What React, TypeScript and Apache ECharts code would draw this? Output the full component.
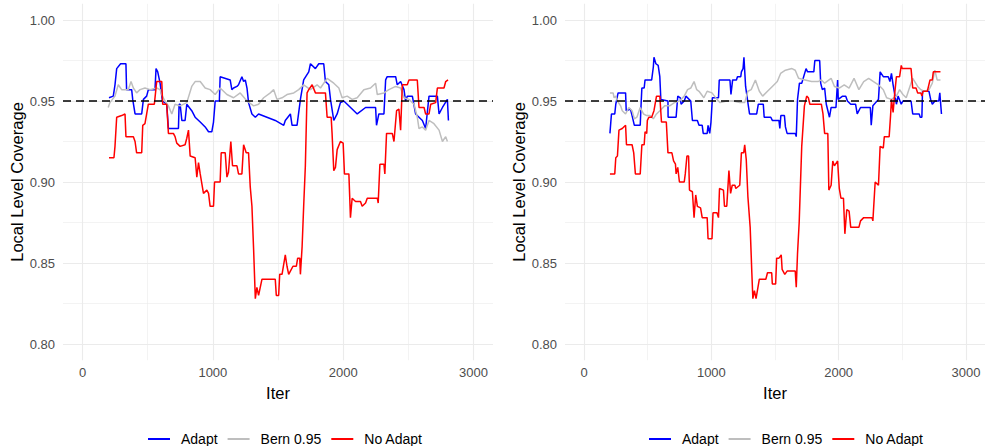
import React, { useEffect, useRef } from "react";
import * as echarts from "echarts";

// ---- data (iteration, local level coverage) ----
const leftAdapt: [number, number][] = [
  [203,0.952],[236,0.953],[249,0.960],[262,0.970],[292,0.973],[333,0.973],[338,0.957],[377,0.957],[385,0.951],[403,0.942],[454,0.942],[467,0.951],[492,0.953],[505,0.957],[556,0.957],[564,0.970],[577,0.968],[595,0.961],[613,0.950],[646,0.948],[659,0.933],[736,0.933],[741,0.948],[749,0.948],[762,0.938],[787,0.938],[800,0.948],[838,0.944],[864,0.940],[903,0.937],[941,0.934],[967,0.931],[992,0.931],[1005,0.937],[1018,0.950],[1050,0.950],[1056,0.965],[1133,0.963],[1146,0.957],[1159,0.958],[1185,0.959],[1197,0.960],[1223,0.965],[1236,0.962],[1249,0.963],[1262,0.958],[1274,0.949],[1300,0.942],[1326,0.940],[1351,0.942],[1415,0.940],[1479,0.938],[1544,0.935],[1556,0.938],[1595,0.942],[1608,0.935],[1646,0.935],[1672,0.951],[1697,0.963],[1736,0.968],[1749,0.973],[1787,0.970],[1813,0.973],[1851,0.973],[1864,0.962],[1890,0.960],[1903,0.951],[1928,0.938],[1954,0.942],[1979,0.949],[2005,0.950],[2031,0.948],[2108,0.942],[2172,0.946],[2249,0.946],[2256,0.935],[2274,0.942],[2313,0.942],[2326,0.963],[2338,0.965],[2403,0.965],[2415,0.960],[2441,0.962],[2467,0.957],[2479,0.950],[2492,0.953],[2531,0.953],[2556,0.942],[2608,0.938],[2633,0.933],[2659,0.953],[2723,0.953],[2736,0.942],[2762,0.946],[2800,0.951],[2808,0.938]
];
const leftBern: [number, number][] = [
  [197,0.946],[210,0.949],[249,0.953],[274,0.960],[300,0.957],[351,0.957],[372,0.962],[390,0.958],[415,0.955],[441,0.957],[479,0.958],[518,0.957],[569,0.958],[595,0.957],[613,0.953],[633,0.950],[659,0.947],[685,0.942],[710,0.948],[749,0.947],[800,0.949],[838,0.959],[864,0.962],[903,0.962],[941,0.958],[979,0.957],[1018,0.954],[1056,0.958],[1108,0.954],[1159,0.952],[1210,0.955],[1262,0.950],[1313,0.947],[1351,0.948],[1390,0.952],[1441,0.955],[1467,0.957],[1492,0.951],[1531,0.952],[1569,0.954],[1621,0.955],[1659,0.957],[1697,0.960],[1749,0.957],[1800,0.960],[1826,0.958],[1877,0.964],[1928,0.961],[1967,0.958],[1992,0.952],[2031,0.953],[2069,0.951],[2108,0.952],[2159,0.957],[2210,0.958],[2249,0.961],[2262,0.954],[2313,0.955],[2351,0.957],[2403,0.959],[2441,0.958],[2467,0.952],[2505,0.951],[2544,0.948],[2569,0.940],[2582,0.933],[2608,0.934],[2633,0.932],[2659,0.938],[2697,0.936],[2736,0.932],[2762,0.925],[2787,0.928],[2800,0.925]
];
const leftNoAdapt: [number, number][] = [
  [203,0.915],[241,0.915],[249,0.922],[262,0.940],[300,0.941],[326,0.942],[333,0.928],[390,0.928],[403,0.925],[415,0.918],[454,0.918],[462,0.935],[479,0.936],[492,0.942],[505,0.948],[551,0.948],[569,0.962],[608,0.962],[615,0.948],[646,0.948],[659,0.930],[697,0.930],[710,0.928],[723,0.924],[749,0.922],[787,0.923],[800,0.927],[813,0.932],[826,0.916],[864,0.915],[877,0.903],[890,0.912],[903,0.905],[928,0.893],[954,0.895],[967,0.893],[979,0.885],[1005,0.885],[1013,0.900],[1056,0.900],[1064,0.918],[1095,0.918],[1108,0.903],[1120,0.906],[1138,0.925],[1151,0.910],[1185,0.910],[1197,0.905],[1223,0.905],[1236,0.923],[1256,0.918],[1274,0.918],[1287,0.897],[1300,0.885],[1313,0.858],[1326,0.828],[1338,0.835],[1351,0.830],[1377,0.840],[1479,0.840],[1487,0.830],[1505,0.830],[1513,0.843],[1531,0.843],[1556,0.855],[1569,0.848],[1582,0.843],[1595,0.845],[1615,0.848],[1641,0.848],[1651,0.853],[1667,0.853],[1672,0.843],[1685,0.860],[1697,0.885],[1710,0.910],[1723,0.955],[1736,0.957],[1762,0.960],[1787,0.955],[1864,0.955],[1877,0.940],[1908,0.940],[1915,0.930],[1928,0.907],[1941,0.909],[1954,0.920],[1979,0.925],[2000,0.924],[2010,0.905],[2044,0.905],[2056,0.878],[2069,0.890],[2095,0.888],[2133,0.888],[2146,0.885],[2172,0.887],[2185,0.890],[2262,0.890],[2269,0.887],[2282,0.911],[2313,0.911],[2320,0.905],[2333,0.930],[2377,0.930],[2390,0.925],[2410,0.944],[2428,0.945],[2441,0.932],[2454,0.960],[2492,0.960],[2505,0.963],[2569,0.963],[2582,0.946],[2621,0.946],[2633,0.942],[2659,0.942],[2672,0.948],[2710,0.949],[2723,0.958],[2774,0.958],[2787,0.962],[2805,0.963]
];
const rightAdapt: [number, number][] = [
  [203,0.930],[215,0.942],[241,0.942],[249,0.948],[267,0.955],[326,0.955],[331,0.944],[364,0.945],[377,0.941],[395,0.935],[441,0.935],[449,0.950],[454,0.958],[472,0.958],[479,0.963],[531,0.963],[544,0.971],[549,0.977],[564,0.973],[582,0.972],[595,0.965],[603,0.951],[659,0.950],[660,0.940],[723,0.940],[736,0.953],[756,0.952],[762,0.948],[787,0.950],[800,0.953],[838,0.950],[851,0.938],[890,0.938],[903,0.935],[928,0.935],[936,0.930],[967,0.930],[974,0.935],[987,0.930],[997,0.937],[1008,0.952],[1056,0.952],[1062,0.963],[1146,0.963],[1154,0.954],[1167,0.963],[1197,0.963],[1205,0.965],[1231,0.965],[1236,0.968],[1249,0.970],[1256,0.977],[1269,0.959],[1287,0.949],[1300,0.942],[1356,0.942],[1369,0.948],[1408,0.948],[1415,0.940],[1467,0.940],[1479,0.938],[1531,0.938],[1538,0.933],[1546,0.941],[1574,0.941],[1582,0.934],[1595,0.930],[1659,0.930],[1667,0.928],[1677,0.951],[1692,0.961],[1710,0.961],[1744,0.970],[1756,0.968],[1805,0.968],[1813,0.975],[1851,0.975],[1859,0.961],[1872,0.957],[1890,0.958],[1903,0.948],[1928,0.940],[1941,0.946],[1979,0.946],[1992,0.963],[1997,0.951],[2031,0.953],[2056,0.953],[2069,0.950],[2095,0.948],[2133,0.948],[2146,0.942],[2172,0.946],[2249,0.946],[2256,0.935],[2269,0.947],[2313,0.951],[2326,0.968],[2351,0.965],[2390,0.965],[2403,0.962],[2415,0.967],[2428,0.960],[2454,0.948],[2467,0.953],[2492,0.948],[2505,0.950],[2569,0.950],[2582,0.942],[2633,0.942],[2641,0.940],[2654,0.940],[2659,0.956],[2710,0.956],[2723,0.951],[2736,0.948],[2756,0.950],[2787,0.950],[2795,0.955],[2808,0.942]
];
const rightBern: [number, number][] = [
  [203,0.955],[228,0.955],[236,0.952],[249,0.953],[262,0.950],[287,0.947],[300,0.944],[326,0.942],[351,0.946],[377,0.944],[395,0.939],[415,0.940],[441,0.946],[467,0.942],[492,0.941],[518,0.941],[544,0.939],[569,0.942],[595,0.944],[633,0.947],[672,0.947],[710,0.949],[749,0.950],[787,0.953],[813,0.957],[838,0.958],[864,0.962],[885,0.957],[903,0.956],[941,0.952],[967,0.956],[1005,0.955],[1044,0.951],[1069,0.949],[1121,0.950],[1172,0.950],[1223,0.949],[1262,0.949],[1287,0.956],[1313,0.957],[1346,0.963],[1377,0.956],[1403,0.953],[1441,0.956],[1479,0.959],[1518,0.962],[1544,0.967],[1582,0.969],[1633,0.970],[1659,0.969],[1685,0.964],[1736,0.963],[1787,0.962],[1838,0.962],[1864,0.963],[1890,0.961],[1941,0.964],[1967,0.959],[2005,0.958],[2044,0.960],[2082,0.958],[2121,0.964],[2159,0.957],[2197,0.962],[2236,0.964],[2274,0.962],[2313,0.960],[2351,0.957],[2377,0.952],[2415,0.951],[2454,0.953],[2479,0.957],[2505,0.954],[2531,0.952],[2556,0.958],[2582,0.964],[2621,0.959],[2646,0.957],[2672,0.956],[2710,0.957],[2736,0.961],[2756,0.969],[2774,0.963],[2800,0.963]
];
const rightNoAdapt: [number, number][] = [
  [203,0.905],[241,0.905],[249,0.915],[262,0.916],[274,0.932],[300,0.933],[326,0.935],[333,0.923],[377,0.923],[390,0.918],[403,0.905],[441,0.905],[454,0.923],[472,0.923],[479,0.931],[492,0.930],[497,0.938],[510,0.940],[531,0.940],[549,0.944],[569,0.953],[595,0.953],[608,0.937],[646,0.937],[659,0.918],[690,0.918],[703,0.913],[718,0.911],[723,0.905],[736,0.909],[749,0.900],[787,0.900],[795,0.905],[808,0.916],[821,0.916],[828,0.895],[851,0.894],[864,0.878],[877,0.892],[890,0.885],[915,0.884],[928,0.878],[967,0.878],[974,0.865],[1005,0.865],[1013,0.881],[1044,0.881],[1056,0.878],[1064,0.896],[1095,0.895],[1103,0.885],[1121,0.885],[1138,0.907],[1151,0.893],[1164,0.898],[1185,0.898],[1192,0.896],[1223,0.898],[1236,0.918],[1254,0.918],[1262,0.923],[1274,0.914],[1287,0.891],[1305,0.872],[1318,0.844],[1326,0.828],[1338,0.833],[1351,0.828],[1377,0.840],[1428,0.840],[1441,0.844],[1474,0.844],[1479,0.837],[1505,0.837],[1513,0.853],[1531,0.853],[1549,0.855],[1556,0.846],[1577,0.843],[1595,0.845],[1659,0.845],[1667,0.835],[1677,0.856],[1690,0.875],[1710,0.922],[1731,0.947],[1749,0.953],[1762,0.952],[1774,0.948],[1864,0.948],[1877,0.942],[1890,0.930],[1915,0.930],[1923,0.895],[1941,0.898],[1954,0.913],[1967,0.910],[1992,0.913],[2005,0.896],[2018,0.890],[2038,0.890],[2049,0.868],[2064,0.883],[2082,0.882],[2095,0.872],[2159,0.872],[2172,0.876],[2197,0.878],[2262,0.878],[2269,0.876],[2287,0.900],[2313,0.898],[2326,0.922],[2351,0.921],[2359,0.928],[2397,0.928],[2408,0.941],[2415,0.951],[2428,0.943],[2441,0.955],[2454,0.965],[2479,0.965],[2492,0.972],[2500,0.970],[2569,0.970],[2582,0.958],[2608,0.958],[2621,0.955],[2646,0.955],[2654,0.953],[2664,0.956],[2697,0.956],[2718,0.963],[2736,0.963],[2744,0.968],[2800,0.968]
];

const seriesNames = ["Adapt", "Bern 0.95", "No Adapt"];
const seriesColors = ["#0000FF", "#BEBEBE", "#FF0000"];
const xMajorTicks = [0, 1000, 2000, 3000];
const xMinorTicks = [500, 1500, 2500];
const yMajorTicks = [0.8, 0.85, 0.9, 0.95, 1.0];
const yMinorTicks = [0.825, 0.875, 0.925, 0.975];
const targetLevel = 0.95;

const FONT = "Liberation Sans, Arial, Helvetica, sans-serif";

export default function App() {
  const ref = useRef<HTMLDivElement>(null);
  useEffect(() => {
    if (!ref.current) return;
    const chart = echarts.init(ref.current, undefined, { renderer: "svg" });
    const gridLefts = [63, 565];
    const grids = gridLefts.map((l) => ({ left: l, top: 3.8, width: 430, height: 356.4, containLabel: false }));
    const xAxes: any[] = [];
    const yAxes: any[] = [];
    gridLefts.forEach((_, g) => {
      xAxes.push({
        type: "value", gridIndex: g, min: -150, max: 3150,
        name: "Iter", nameLocation: "middle", nameGap: 22,
        nameTextStyle: { color: "#000", fontSize: 16.5, fontFamily: FONT },
        axisLine: { show: false }, axisTick: { show: false, customValues: xMajorTicks },
        axisLabel: { customValues: xMajorTicks, color: "#4D4D4D", fontSize: 13, fontFamily: FONT, margin: 6, formatter: (v: number) => String(Math.round(v)) },
        splitLine: { show: true, lineStyle: { color: "#EBEBEB", width: 1.1 } },
      });
      xAxes.push({
        type: "value", gridIndex: g, min: -150, max: 3150, z: 0,
        axisLine: { show: false }, axisTick: { show: false, customValues: xMinorTicks },
        axisLabel: { show: false, customValues: xMinorTicks },
        splitLine: { show: true, lineStyle: { color: "#EBEBEB", width: 0.6 } },
      });
      yAxes.push({
        type: "value", gridIndex: g, min: 0.79, max: 1.01,
        name: "Local Level Coverage", nameLocation: "middle", nameGap: 37,
        nameTextStyle: { color: "#000", fontSize: 16.5, fontFamily: FONT },
        axisLine: { show: false }, axisTick: { show: false, customValues: yMajorTicks },
        axisLabel: { customValues: yMajorTicks, color: "#4D4D4D", fontSize: 13, fontFamily: FONT, margin: 8, formatter: (v: number) => v.toFixed(2) },
        splitLine: { show: true, lineStyle: { color: "#EBEBEB", width: 1.1 } },
      });
      yAxes.push({
        type: "value", gridIndex: g, min: 0.79, max: 1.01,
        axisLine: { show: false }, axisTick: { show: false, customValues: yMinorTicks },
        axisLabel: { show: false, customValues: yMinorTicks },
        splitLine: { show: true, lineStyle: { color: "#EBEBEB", width: 0.6 } },
      });
    });
    const panels = [
      [leftAdapt, leftBern, leftNoAdapt],
      [rightAdapt, rightBern, rightNoAdapt],
    ];
    const series: any[] = [];
    panels.forEach((data, g) => {
      data.forEach((d, i) => {
        series.push({
          type: "line", name: seriesNames[i], data: d,
          xAxisIndex: g * 2, yAxisIndex: g * 2,
          showSymbol: false, symbol: "none", z: 2 + i,
          lineStyle: { color: seriesColors[i], width: 1.5 },
          itemStyle: { color: seriesColors[i] },
          markLine: i === 2 ? {
            silent: true, symbol: "none", z: 10, label: { show: false },
            lineStyle: { color: "#000", type: [8, 5], width: 1.5 },
            data: [{ yAxis: targetLevel }],
          } : undefined,
        });
      });
    });
    const legendBase = {
      bottom: -5, itemWidth: 22, itemHeight: 2, icon: "rect", itemGap: 10,
      textStyle: { color: "#000", fontSize: 14, fontFamily: FONT, padding: [0, 0, 0, 6] },
      data: seriesNames,
    };
    chart.setOption({
      animation: false,
      backgroundColor: "#fff",
      grid: grids,
      xAxis: xAxes,
      yAxis: yAxes,
      legend: [{ ...legendBase, left: 143 }, { ...legendBase, left: 644 }],
      series,
    });
    return () => chart.dispose();
  }, []);
  return (
    <div
      ref={ref}
      style={{ position: "fixed", left: 0, top: 0, width: 985, height: 446 }}
    />
  );
}
